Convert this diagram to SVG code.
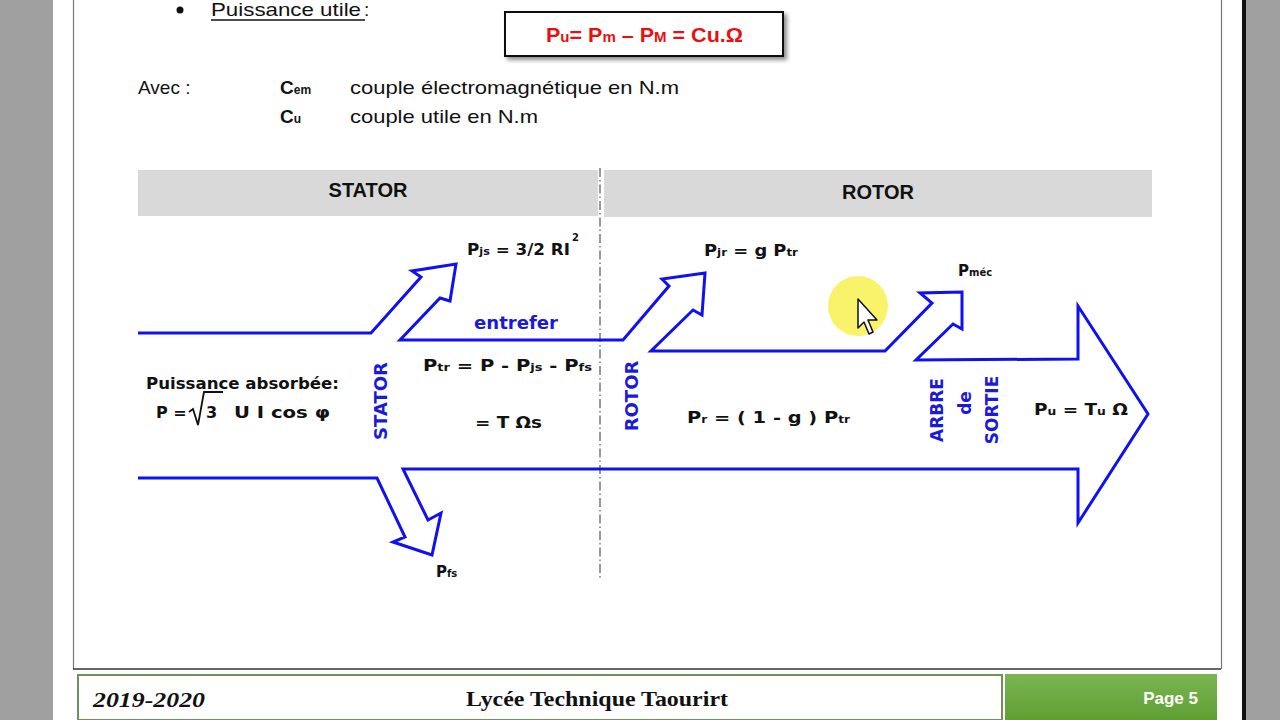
<svg xmlns="http://www.w3.org/2000/svg" width="1280" height="720" viewBox="0 0 1280 720">
<defs>
<style>
.bl{fill:none;stroke:#1010f0;stroke-width:3;stroke-linejoin:miter}
.tx{font-family:"DejaVu Sans",sans-serif;font-weight:bold;fill:#111}
.bt{font-family:"DejaVu Sans",sans-serif;font-weight:bold;fill:#1a1ad8}
.ar{font-family:"Liberation Sans",Arial,sans-serif;fill:#111}
.hd{font-family:"Liberation Sans",Arial,sans-serif;font-weight:bold;font-size:20px;fill:#111;text-anchor:middle}
</style>
<filter id="sh" x="-10%" y="-10%" width="130%" height="140%"><feDropShadow dx="3" dy="3" stdDeviation="2" flood-color="#000" flood-opacity="0.45"/></filter>
<linearGradient id="gg" x1="0" y1="0" x2="0" y2="1"><stop offset="0" stop-color="#7ab552"/><stop offset="1" stop-color="#5e9f33"/></linearGradient>
</defs>
<rect width="1280" height="720" fill="#a0a0a0"/>
<rect x="53" y="0" width="1190" height="720" fill="#fff"/>
<rect x="1242" y="0" width="4" height="720" fill="#111"/>
<line x1="73.5" y1="0" x2="73.5" y2="669" stroke="#777" stroke-width="1.2"/>
<line x1="1221.5" y1="0" x2="1221.5" y2="669" stroke="#777" stroke-width="1.2"/>

<g id="top">
<circle cx="180" cy="10" r="3.5" fill="#111"/>
<text class="ar" x="211" y="16" font-size="19" textLength="150" lengthAdjust="spacingAndGlyphs">Puissance utile </text>
<text class="ar" x="364" y="16" font-size="19">:</text>
<line x1="211" y1="20" x2="365" y2="20" stroke="#111" stroke-width="1.3"/>
<g id="formula">
<rect x="505" y="12" width="278" height="44" fill="#fff" stroke="#111" stroke-width="2" filter="url(#sh)"/>
<text x="546" y="42" font-family="'Liberation Sans',Arial,sans-serif" font-weight="bold" font-size="20" fill="#e81010" textLength="197" lengthAdjust="spacingAndGlyphs">P<tspan font-size="14">u</tspan>= P<tspan font-size="14">m</tspan> – P<tspan font-size="14">M</tspan> = Cu.Ω</text>
</g>
<text class="ar" x="138" y="94" font-size="19">Avec :</text>
<text class="ar" x="280" y="94" font-size="19" font-weight="bold">C<tspan font-size="12">em</tspan></text>
<text class="ar" x="350" y="94" font-size="19" textLength="329" lengthAdjust="spacingAndGlyphs">couple électromagnétique en N.m</text>
<text class="ar" x="280" y="123" font-size="19" font-weight="bold">C<tspan font-size="12">u</tspan></text>
<text class="ar" x="350" y="123" font-size="19" textLength="188" lengthAdjust="spacingAndGlyphs">couple utile en N.m</text>
</g>

<g id="header-stator">
<rect x="138" y="170" width="460" height="46" fill="#d9d9d9"/>
<text class="hd" x="368" y="197">STATOR</text>
</g>
<g id="header-rotor">
<rect x="604" y="170" width="548" height="47" fill="#d9d9d9"/>
<text class="hd" x="878" y="199">ROTOR</text>
</g>
<line x1="600" y1="168" x2="600" y2="580" stroke="#333" stroke-width="1" stroke-dasharray="9,3,1.5,3"/>

<g id="connectors">
<path class="bl" d="M138,333 L371,333 L421,277 L412,271 L456,264 L450,301 L440,298 L400,340 L623,340 L669,286 L662,279 L705,273 L702,315 L693,310 L651,351 L885,351 L932,303 L920,293 L962,292 L962,329 L953,324 L916,360 L1078,359 L1078,306 L1148,414 L1078,523 L1078,469 L403,469 L428,520 L441,513 L432,555 L393,542 L405,537 L377,478 L138,478"/>
</g>

<g id="stator-labels">
<text class="tx" x="467" y="255" font-size="15" textLength="103" lengthAdjust="spacingAndGlyphs">P<tspan font-size="10">js</tspan> = 3/2 RI</text>
<text class="tx" x="572" y="241" font-size="10">2</text>
<text class="bt" x="474" y="329" font-size="18" textLength="84" lengthAdjust="spacingAndGlyphs">entrefer</text>
<text class="tx" x="146" y="389" font-size="16" textLength="193" lengthAdjust="spacingAndGlyphs">Puissance absorbée:</text>
<text class="tx" x="156" y="418" font-size="16">P =</text>
<path d="M189,412 L193,409 L198,425 L204,392 L223,392" fill="none" stroke="#111" stroke-width="1.8"/>
<text class="tx" x="206" y="418" font-size="16">3</text>
<text class="tx" x="234" y="418" font-size="16" textLength="96" lengthAdjust="spacingAndGlyphs">U I cos φ</text>
<text class="bt" transform="translate(387,401) rotate(-90)" text-anchor="middle" font-size="18">STATOR</text>
<text class="tx" x="423" y="371" font-size="15" textLength="169" lengthAdjust="spacingAndGlyphs">P<tspan font-size="10">tr</tspan> = P - P<tspan font-size="10">js</tspan> - P<tspan font-size="10">fs</tspan></text>
<text class="tx" x="475" y="428" font-size="16" textLength="67" lengthAdjust="spacingAndGlyphs">= T Ωs</text>
<text class="tx" x="436" y="577" font-size="15">P<tspan font-size="10">fs</tspan></text>
</g>

<g id="rotor-labels">
<text class="tx" x="704" y="256" font-size="15" textLength="94" lengthAdjust="spacingAndGlyphs">P<tspan font-size="10">jr</tspan> = g P<tspan font-size="10">tr</tspan></text>
<text class="tx" x="958" y="276" font-size="15">P<tspan font-size="10">méc</tspan></text>
<text class="bt" transform="translate(638,396) rotate(-90)" text-anchor="middle" font-size="18">ROTOR</text>
<text class="tx" x="687" y="423" font-size="16" textLength="163" lengthAdjust="spacingAndGlyphs">P<tspan font-size="10">r</tspan> = ( 1 - g ) P<tspan font-size="10">tr</tspan></text>
<text class="bt" transform="translate(943,410) rotate(-90)" text-anchor="middle" font-size="17">ARBRE</text>
<text class="bt" transform="translate(971,403) rotate(-90)" text-anchor="middle" font-size="17">de</text>
<text class="bt" transform="translate(998,410) rotate(-90)" text-anchor="middle" font-size="17">SORTIE</text>
<text class="tx" x="1034" y="415" font-size="15" textLength="94" lengthAdjust="spacingAndGlyphs">P<tspan font-size="10">u</tspan> = T<tspan font-size="10">u</tspan> Ω</text>
</g>

<g id="cursor">
<circle cx="858" cy="306" r="30" fill="#f7f25a" opacity="0.9"/>
<path d="M858,299 L858,328 L864,322 L869,334 L873,332 L868,320 L877,320 Z" fill="#fff" stroke="#111" stroke-width="1.5" stroke-linejoin="round"/>
</g>

<g id="footer">
<line x1="73" y1="669" x2="1221" y2="669" stroke="#333" stroke-width="1.5"/>
<rect x="78" y="675" width="924" height="45" fill="#fff" stroke="#6f8f5f" stroke-width="2"/>
<rect x="1005" y="674" width="212" height="46" fill="url(#gg)"/>
<text x="93" y="707" font-family="'Liberation Serif',serif" font-style="italic" font-weight="bold" font-size="21" fill="#111" textLength="112" lengthAdjust="spacingAndGlyphs">2019-2020</text>
<text x="466" y="706" font-family="'Liberation Serif',serif" font-weight="bold" font-size="22" fill="#111" textLength="262" lengthAdjust="spacingAndGlyphs">Lycée Technique Taourirt</text>
<text x="1198" y="704" text-anchor="end" font-family="'Liberation Sans',sans-serif" font-weight="bold" font-size="17" fill="#fff">Page 5</text>
</g>
</svg>
